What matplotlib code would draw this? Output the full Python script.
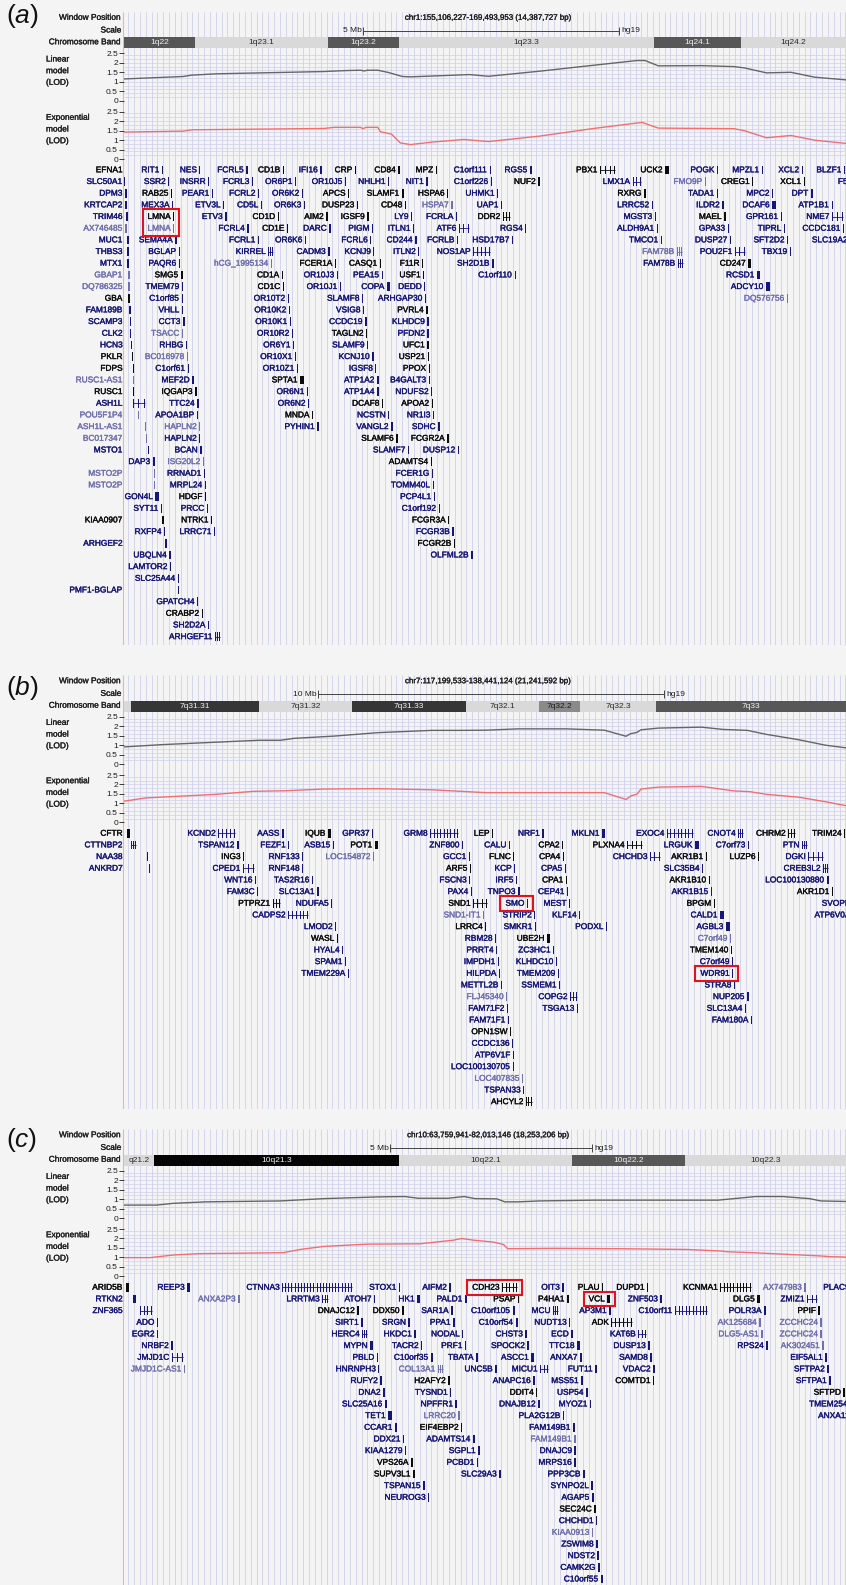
import numpy as np
import matplotlib
matplotlib.use("Agg")
import matplotlib.pyplot as plt
import matplotlib.patheffects as pe
from matplotlib.transforms import offset_copy, blended_transform_factory, IdentityTransform
from matplotlib.patches import Rectangle

plt.rcParams['font.family'] = ['Liberation Sans', 'DejaVu Sans']
plt.rcParams['mathtext.fontset'] = 'custom'
plt.rcParams['mathtext.rm'] = 'Liberation Sans'
plt.rcParams['mathtext.it'] = 'Liberation Sans:italic'

# ======================= DATA =======================
LOD_TICKS = [0, 0.5, 1, 1.5, 2, 2.5]
LOD_TICK_LABELS = ['0', '0.5', '1', '1.5', '2', '2.5']

# ---------- panel (a) ----------
A_WINDOW = (155.106227, 169.493953)
A_POSITION = "chr1:155,106,227-169,493,953 (14,387,727 bp)"
A_SCALE_MB, A_SCALE_TXT = 5, "5 Mb"
A_BAND_NAMES = ['1q22', '1q23.1', '1q23.2', '1q23.3', '1q24.1', '1q24.2']
A_BAND_EDGES = [153.3, 156.5, 159.1, 160.5, 165.5, 167.2, 170.0]
A_BAND_STAIN = ['gpos50', 'gneg', 'gpos50', 'gneg', 'gpos50', 'gneg']
A_LIN_MB = [155.11, 156.27, 156.43, 156.91, 159.02, 159.45, 159.74, 159.82, 159.87, 160.08, 160.29, 160.56,
            160.72, 161.88, 162.25, 163.26, 164.31, 165.16, 165.32, 165.58, 166.43, 167.06, 167.27, 167.70,
            168.18, 168.65, 169.27]
A_LIN_LOD = [1.15, 1.28, 1.35, 1.42, 1.54, 1.59, 1.61, 1.57, 1.61, 1.61, 1.49, 1.28, 1.26, 1.38, 1.29, 1.56,
             1.87, 2.12, 2.12, 1.84, 1.85, 1.80, 1.73, 1.47, 1.50, 1.24, 1.10]
A_EXP_MB = [155.11, 156.27, 156.43, 159.02, 159.23, 159.74, 159.79, 159.85, 160.08, 160.13, 160.35, 160.52,
            160.72, 161.14, 161.77, 162.25, 163.26, 164.31, 165.26, 165.58, 167.06, 167.27, 167.70, 168.18,
            168.65, 169.27]
A_EXP_LOD = [1.42, 1.47, 1.54, 1.61, 1.67, 1.67, 1.60, 1.67, 1.67, 1.44, 1.31, 0.85, 0.76, 0.89, 1.03, 0.92,
             1.21, 1.61, 1.93, 1.63, 1.60, 1.49, 1.12, 1.24, 0.99, 0.82]
A_NAMES = [
    "EFNA1 RIT1 NES FCRL5 CD1B IFI16 CRP CD84 MPZ C1orf111 RGS5 PBX1 UCK2 POGK MPZL1 XCL2 BLZF1",
    "SLC50A1 SSR2 INSRR FCRL3 OR6P1 OR10J5 NHLH1 NIT1 C1orf226 NUF2 LMX1A FMO9P CREG1 XCL1 F5",
    "DPM3 RAB25 PEAR1 FCRL2 OR6K2 APCS SLAMF1 HSPA6 UHMK1 RXRG TADA1 MPC2 DPT",
    "KRTCAP2 MEX3A ETV3L CD5L OR6K3 DUSP23 CD48 HSPA7 UAP1 LRRC52 ILDR2 DCAF6 ATP1B1",
    "TRIM46 LMNA ETV3 CD1D AIM2 IGSF9 LY9 FCRLA DDR2 MGST3 MAEL GPR161 NME7",
    "AX746485 LMNA FCRL4 CD1E DARC PIGM ITLN1 ATF6 RGS4 ALDH9A1 GPA33 TIPRL CCDC181",
    "MUC1 SEMA4A FCRL1 OR6K6 FCRL6 CD244 FCRLB HSD17B7 TMCO1 DUSP27 SFT2D2 SLC19A2",
    "THBS3 BGLAP KIRREL CADM3 KCNJ9 ITLN2 NOS1AP FAM78B POU2F1 TBX19",
    "MTX1 PAQR6 hCG_1995134 FCER1A CASQ1 F11R SH2D1B FAM78B CD247",
    "GBAP1 SMG5 CD1A OR10J3 PEA15 USF1 C1orf110 RCSD1",
    "DQ786325 TMEM79 CD1C OR10J1 COPA DEDD ADCY10",
    "GBA C1orf85 OR10T2 SLAMF8 ARHGAP30 DQ576756",
    "FAM189B VHLL OR10K2 VSIG8 PVRL4",
    "SCAMP3 CCT3 OR10K1 CCDC19 KLHDC9",
    "CLK2 TSACC OR10R2 TAGLN2 PFDN2",
    "HCN3 RHBG OR6Y1 SLAMF9 UFC1",
    "PKLR BC016978 OR10X1 KCNJ10 USP21",
    "FDPS C1orf61 OR10Z1 IGSF8 PPOX",
    "RUSC1-AS1 MEF2D SPTA1 ATP1A2 B4GALT3",
    "RUSC1 IQGAP3 OR6N1 ATP1A4 NDUFS2",
    "ASH1L TTC24 OR6N2 DCAF8 APOA2",
    "POU5F1P4 APOA1BP MNDA NCSTN NR1I3",
    "ASH1L-AS1 HAPLN2 PYHIN1 VANGL2 SDHC",
    "BC017347 HAPLN2 SLAMF6 FCGR2A",
    "MSTO1 BCAN SLAMF7 DUSP12",
    "DAP3 ISG20L2 ADAMTS4",
    "MSTO2P RRNAD1 FCER1G",
    "MSTO2P MRPL24 TOMM40L",
    "GON4L HDGF PCP4L1",
    "SYT11 PRCC C1orf192",
    "KIAA0907 NTRK1 FCGR3A",
    "RXFP4 LRRC71 FCGR3B",
    "ARHGEF2 FCGR2B",
    "UBQLN4 OLFML2B",
    "LAMTOR2", "SLC25A44", "PMF1-BGLAP", "GPATCH4", "CRABP2", "SH2D2A", "ARHGEF11"]
A_MB = [
    [155.09, 155.85, 156.58, 157.50, 158.22, 158.95, 159.63, 160.48, 161.22, 162.28, 163.06, 164.44, 165.71, 166.73, 167.61, 168.39, 169.22],
    [155.11, 155.97, 156.75, 157.61, 158.46, 159.44, 160.28, 161.03, 162.30, 163.22, 165.08, 166.49, 167.42, 168.43, 169.34],
    [155.13, 156.03, 156.83, 157.73, 158.59, 159.50, 160.55, 161.44, 162.42, 165.30, 166.73, 167.81, 168.57],
    [155.13, 156.05, 157.05, 157.79, 158.63, 159.67, 160.61, 161.52, 162.50, 165.45, 166.83, 167.81, 168.98],
    [155.15, 156.07, 157.09, 158.12, 159.07, 159.87, 160.73, 161.61, 162.53, 165.51, 166.87, 167.98, 168.98],
    [155.13, 156.07, 157.52, 158.30, 159.13, 159.97, 160.77, 161.67, 162.97, 165.55, 166.94, 168.04, 169.20],
    [155.17, 156.11, 157.73, 158.65, 159.93, 160.81, 161.63, 162.71, 165.63, 166.98, 168.10, 169.34],
    [155.17, 156.18, 157.93, 159.11, 159.99, 160.87, 161.95, 165.94, 167.08, 168.16],
    [155.17, 156.18, 157.99, 159.24, 160.12, 160.95, 162.32, 165.96, 167.34],
    [155.19, 156.22, 158.20, 159.28, 160.16, 160.97, 162.77, 167.51],
    [155.19, 156.24, 158.22, 159.34, 160.26, 160.99, 167.69],
    [155.19, 156.24, 158.32, 159.77, 161.01, 168.10],
    [155.21, 156.24, 158.34, 159.79, 161.03],
    [155.22, 156.26, 158.36, 159.83, 161.05],
    [155.22, 156.24, 158.40, 159.85, 161.05],
    [155.24, 156.32, 158.42, 159.87, 161.05],
    [155.26, 156.34, 158.46, 159.97, 161.06],
    [155.28, 156.36, 158.50, 160.03, 161.08],
    [155.28, 156.44, 158.56, 160.07, 161.08],
    [155.28, 156.50, 158.69, 160.07, 161.12],
    [155.28, 156.54, 158.71, 160.16, 161.14],
    [155.38, 156.54, 158.79, 160.28, 161.16],
    [155.52, 156.58, 158.89, 160.34, 161.26],
    [155.54, 156.58, 160.44, 161.44],
    [155.58, 156.60, 160.67, 161.65],
    [155.67, 156.65, 161.12],
    [155.69, 156.67, 161.14],
    [155.69, 156.69, 161.16],
    [155.72, 156.69, 161.18],
    [155.83, 156.73, 161.28],
    [155.86, 156.81, 161.46],
    [155.89, 156.87, 161.54],
    [155.91, 161.57],
    [155.99, 161.91],
    [156.01], [156.16], [156.16], [156.54], [156.63], [156.75], [156.89]]
A_KIND = ["kbbbkbkkkbbkkbbbb", "bbbbbbbbbkblkkb", "bkbbbkkkbkbbb", "bbbbbkklbbbbb", "bkbkkkbbkbkbb",
          "llbkbbbbbbbbb", "bbbbbbbbbbbb", "bbbbbbblbb", "bblkkkbbk", "lkkbbkbb", "lbkbbbb", "kbbbbl",
          "bbbbk", "bbbbb", "blbkb", "bbbbk", "klbbk", "kbbbk", "lbkbb", "kkbbb", "bbbkk", "lbkbb", "llbbb",
          "lbkk", "bbbb", "blk", "lbb", "lbb", "bkb", "bbb", "kkk", "bbb", "bk", "bb",
          "b", "b", "b", "b", "k", "b", "b"]
A_SPAN_KB = {'FCRL5': 39, 'IFI16': 39, 'CD84': 39, 'RGS5': 39, 'PBX1': 294, 'UCK2': 78, 'MPZL1': 30,
             'NUF2': 39, 'LMX1A': 157, 'SLAMF1': 39, 'RXRG': 39, 'DPT': 39, 'UAP1': 20, 'ILDR2': 39,
             'DCAF6': 86, 'IGSF9': 30, 'LY9': 30, 'DDR2': 137, 'MAEL': 30, 'NME7': 216, 'FCRL4': 30,
             'ATF6': 196, 'ALDH9A1': 30, 'GPA33': 30, 'SEMA4A': 39, 'CD244': 30, 'HSD17B7': 30,
             'TMCO1': 30, 'SFT2D2': 30, 'KIRREL': 98, 'CADM3': 39, 'NOS1AP': 333, 'FAM78B': 98,
             'POU2F1': 196, 'TBX19': 30, 'SH2D1B': 30, 'CD247': 59, 'SMG5': 39, 'RCSD1': 59, 'COPA': 59,
             'ADCY10': 78, 'SLAMF8': 30, 'VSIG8': 30, 'CCT3': 39, 'CCDC19': 30, 'KLHDC9': 30, 'RHBG': 30,
             'KCNJ10': 30, 'C1orf61': 30, 'MEF2D': 30, 'SPTA1': 78, 'ATP1A2': 30, 'IQGAP3': 39,
             'ATP1A4': 30, 'NDUFS2': 30, 'ASH1L': 235, 'TTC24': 30, 'DCAF8': 30, 'MNDA': 30, 'NCSTN': 30,
             'NR1I3': 30, 'PYHIN1': 39, 'VANGL2': 30, 'SDHC': 39, 'SLAMF6': 39, 'FCGR2A': 30, 'BCAN': 30,
             'SLAMF7': 30, 'DAP3': 39, 'GON4L': 78, 'HDGF': 30, 'SYT11': 30, 'PRCC': 30, 'NTRK1': 30,
             'FCGR3B': 30, 'ARHGEF2': 30, 'FCGR2B': 30, 'UBQLN4': 30, 'OLFML2B': 39, 'SLC25A44': 30,
             'PMF1-BGLAP': 30, 'CRABP2': 30, 'SH2D2A': 30, 'ARHGEF11': 98}
A_MARKED = ['LMNA']

# ---------- panel (b) ----------
B_WINDOW = (117.199533, 138.441124)
B_POSITION = "chr7:117,199,533-138,441,124 (21,241,592 bp)"
B_SCALE_MB, B_SCALE_TXT = 10, "10 Mb"
B_BAND_NAMES = ['', '7q31.31', '7q31.32', '7q31.33', '7q32.1', '7q32.2', '7q32.3', '7q33', '7q34']
B_BAND_EDGES = [113.6, 117.4, 121.1, 123.8, 127.1, 129.2, 130.4, 132.6, 138.2, 143.1]
B_BAND_STAIN = ['gneg', 'gpos75', 'gneg', 'gpos75', 'gneg', 'gpos25', 'gneg', 'gpos50', 'gneg']
B_LIN_MB = [117.20, 118.30, 121.11, 121.73, 122.12, 123.29, 124.54, 126.10, 126.88, 127.67, 128.60, 130.01,
            131.10, 131.73, 131.85, 132.04, 132.16, 132.66, 133.91, 134.54, 135.24, 135.79, 136.72, 137.50,
            138.10]
B_LIN_LOD = [0.91, 1.03, 1.26, 1.26, 1.36, 1.48, 1.66, 1.78, 1.78, 1.79, 1.86, 1.86, 1.79, 1.47, 1.60, 1.67,
             1.81, 1.90, 1.95, 1.83, 1.78, 1.57, 1.29, 1.00, 0.86]
B_EXP_MB = [117.20, 117.83, 119.86, 120.95, 121.89, 122.98, 124.54, 126.10, 127.67, 129.23, 131.10, 131.73,
            131.88, 132.04, 132.16, 132.66, 133.91, 134.85, 135.32, 135.79, 136.72, 137.50, 138.10]
B_EXP_LOD = [1.12, 1.29, 1.48, 1.64, 1.67, 1.76, 1.78, 1.72, 1.57, 1.57, 1.57, 1.21, 1.41, 1.48, 1.76, 1.86,
             1.90, 1.66, 1.62, 1.48, 1.33, 1.09, 0.88]
B_NAMES = [
    "CFTR KCND2 AASS IQUB GPR37 GRM8 LEP NRF1 MKLN1 EXOC4 CNOT4 CHRM2 TRIM24",
    "CTTNBP2 TSPAN12 FEZF1 ASB15 POT1 ZNF800 CALU CPA2 PLXNA4 LRGUK C7orf73 PTN",
    "NAA38 ING3 RNF133 LOC154872 GCC1 FLNC CPA4 CHCHD3 AKR1B1 LUZP6 DGKI",
    "ANKRD7 CPED1 RNF148 ARF5 KCP CPA5 SLC35B4 CREB3L2",
    "WNT16 TAS2R16 FSCN3 IRF5 CPA1 AKR1B10 LOC100130880",
    "FAM3C SLC13A1 PAX4 TNPO3 CEP41 AKR1B15 AKR1D1",
    "PTPRZ1 NDUFA5 SND1 SMO MEST BPGM SVOPL",
    "CADPS2 SND1-IT1 STRIP2 KLF14 CALD1 ATP6V0A4",
    "LMOD2 LRRC4 SMKR1 PODXL AGBL3",
    "WASL RBM28 UBE2H C7orf49",
    "HYAL4 PRRT4 ZC3HC1 TMEM140",
    "SPAM1 IMPDH1 KLHDC10 C7orf49",
    "TMEM229A HILPDA TMEM209 WDR91",
    "METTL2B SSMEM1 STRA8",
    "FLJ45340 COPG2 NUP205",
    "FAM71F2 TSGA13 SLC13A4",
    "FAM71F1 FAM180A",
    "OPN1SW", "CCDC136", "ATP6V1F", "LOC100130705", "LOC407835", "TSPAN33", "AHCYL2"]
B_MB = [
    [117.29, 119.92, 121.77, 123.10, 124.38, 126.06, 127.85, 129.30, 131.03, 132.91, 134.97, 136.42, 138.04],
    [117.40, 120.47, 121.95, 123.25, 124.46, 126.98, 128.34, 129.88, 131.76, 133.72, 135.26, 136.82],
    [117.87, 120.64, 122.35, 124.41, 127.18, 128.46, 129.90, 132.42, 134.04, 135.55, 137.00],
    [117.92, 120.64, 122.35, 127.21, 128.49, 129.96, 133.93, 137.43],
    [120.99, 122.64, 127.18, 128.54, 129.99, 134.13, 137.55],
    [121.05, 122.79, 127.24, 128.60, 130.02, 134.19, 137.69],
    [121.51, 123.19, 127.30, 128.86, 130.08, 134.27, 138.27],
    [121.95, 127.59, 129.07, 130.37, 134.45, 138.44],
    [123.31, 127.65, 129.09, 131.15, 134.62],
    [123.36, 127.94, 129.44, 134.74],
    [123.51, 127.97, 129.62, 134.77],
    [123.60, 128.02, 129.70, 134.80],
    [123.68, 128.05, 129.76, 134.80],
    [128.11, 129.79, 134.85],
    [128.26, 130.11, 135.23],
    [128.28, 130.31, 135.17],
    [128.31, 135.35],
    [128.37], [128.43], [128.46], [128.46], [128.72], [128.75], [128.83]]
B_KIND = ["kbbkbbkbbbbkk", "bbbbkbbkkbbb", "bkblbkkbkkb", "bbbkbbbb", "bbbbkkb", "bbbbbbk", "kbkbbkb",
          "blbbbb", "bkbbb", "kbkl", "bbbk", "bbbb", "bbbb", "bbb", "lbb", "bbb", "bb",
          "k", "b", "b", "b", "l", "b", "k"]
B_SPAN_KB = {'CFTR': 78, 'KCND2': 490, 'AASS': 58, 'IQUB': 87, 'GRM8': 810, 'NRF1': 58, 'MKLN1': 87,
             'EXOC4': 750, 'CNOT4': 145, 'CHRM2': 200, 'CTTNBP2': 145, 'TSPAN12': 58, 'POT1': 87,
             'PLXNA4': 434, 'LRGUK': 120, 'PTN': 145, 'CHCHD3': 290, 'LUZP6': 40, 'DGKI': 434,
             'CPED1': 318, 'CREB3L2': 145, 'SLC13A1': 58, 'TNPO3': 58, 'PTPRZ1': 200, 'SND1': 405,
             'CADPS2': 580, 'CALD1': 116, 'AGBL3': 120, 'UBE2H': 87, 'COPG2': 200, 'NUP205': 58,
             'AHCYL2': 175, 'PODXL': 40}
B_MARKED = ['SMO', 'WDR91']

# ---------- panel (c) ----------
C_WINDOW = (63.759941, 82.013146)
C_POSITION = "chr10:63,759,941-82,013,146 (18,253,206 bp)"
C_SCALE_MB, C_SCALE_TXT = 5, "5 Mb"
C_BAND_NAMES = ['q21.2', '10q21.3', '10q22.1', '10q22.2', '10q22.3']
C_BAND_EDGES = [61.9, 64.5, 70.6, 74.9, 77.7, 82.0]
C_BAND_STAIN = ['gneg', 'gpos100', 'gneg', 'gpos50', 'gneg']
C_LIN_MB = [63.76, 64.57, 64.97, 65.78, 67.66, 68.73, 70.07, 70.74, 71.08, 71.82, 72.22, 72.49, 73.03, 73.23,
            73.56, 74.10, 75.44, 78.53, 79.47, 80.14, 80.81, 81.08, 81.73]
C_LIN_LOD = [0.69, 0.69, 0.78, 0.86, 0.91, 1.03, 1.12, 1.14, 1.05, 1.05, 1.14, 1.03, 1.02, 0.86, 0.86, 0.91,
             0.95, 0.95, 1.14, 1.14, 1.03, 0.91, 0.88]
C_EXP_MB = [63.76, 64.41, 64.99, 65.65, 67.72, 68.14, 68.72, 69.80, 71.12, 71.95, 72.16, 72.45, 72.95, 73.20,
            73.30, 74.44, 76.10, 77.76, 78.59, 78.76, 79.41, 81.07, 81.32, 81.72]
C_EXP_LOD = [0.99, 0.99, 1.13, 1.20, 1.25, 1.42, 1.58, 1.70, 1.72, 1.91, 2.00, 1.91, 1.81, 1.68, 1.46, 1.48,
             1.46, 1.42, 1.34, 1.30, 1.25, 1.08, 1.04, 1.02]
C_NAMES = [
    "ARID5B REEP3 CTNNA3 STOX1 AIFM2 CDH23 OIT3 PLAU DUPD1 KCNMA1 AX747983 PLAC9",
    "RTKN2 ANXA2P3 LRRTM3 ATOH7 HK1 PALD1 PSAP P4HA1 VCL ZNF503 DLG5 ZMIZ1",
    "ZNF365 DNAJC12 DDX50 SAR1A C10orf105 MCU AP3M1 C10orf11 POLR3A PPIF",
    "ADO SIRT1 SRGN PPA1 C10orf54 NUDT13 ADK AK125684 ZCCHC24",
    "EGR2 HERC4 HKDC1 NODAL CHST3 ECD KAT6B DLG5-AS1 ZCCHC24",
    "NRBF2 MYPN TACR2 PRF1 SPOCK2 TTC18 DUSP13 RPS24 AK302451",
    "JMJD1C PBLD C10orf35 TBATA ASCC1 ANXA7 SAMD8 EIF5AL1",
    "JMJD1C-AS1 HNRNPH3 COL13A1 UNC5B MICU1 FUT11 VDAC2 SFTPA2",
    "RUFY2 H2AFY2 ANAPC16 MSS51 COMTD1 SFTPA1",
    "DNA2 TYSND1 DDIT4 USP54 SFTPD",
    "SLC25A16 NPFFR1 DNAJB12 MYOZ1 TMEM254",
    "TET1 LRRC20 PLA2G12B ANXA11",
    "CCAR1 EIF4EBP2 FAM149B1",
    "DDX21 ADAMTS14 FAM149B1",
    "KIAA1279 SGPL1 DNAJC9",
    "VPS26A PCBD1 MRPS16",
    "SUPV3L1 SLC29A3 PPP3CB",
    "TSPAN15 SYNPO2L",
    "NEUROG3 AGAP5",
    "SEC24C", "CHCHD1", "KIAA0913", "ZSWIM8", "NDST2", "CAMK2G", "C10orf55"]
C_MB = [
    [63.81, 65.33, 67.69, 70.60, 71.85, 73.16, 74.66, 75.65, 76.77, 78.59, 80.68, 81.87],
    [63.98, 66.60, 68.69, 69.98, 71.05, 72.24, 73.56, 74.78, 75.78, 77.10, 79.51, 80.75],
    [64.16, 69.56, 70.68, 71.90, 73.44, 74.43, 75.83, 77.47, 79.68, 81.03],
    [64.58, 69.66, 70.83, 71.95, 73.51, 74.83, 75.88, 79.56, 81.08],
    [64.58, 69.68, 70.98, 72.17, 73.74, 74.88, 76.55, 79.61, 81.08],
    [64.93, 69.88, 71.15, 72.24, 73.79, 75.03, 76.80, 79.73, 81.13],
    [64.95, 70.05, 71.40, 72.52, 73.89, 75.10, 76.85, 81.20],
    [65.25, 70.08, 71.57, 72.99, 74.11, 75.48, 76.92, 81.25],
    [70.13, 71.82, 73.94, 75.13, 76.92, 81.30],
    [70.20, 71.87, 74.01, 75.25, 81.65],
    [70.25, 72.00, 74.06, 75.35, 81.82],
    [70.33, 72.07, 74.68, 81.87],
    [70.50, 72.14, 74.93],
    [70.70, 72.44, 74.96],
    [70.75, 72.57, 74.96],
    [70.90, 72.54, 74.96],
    [70.95, 73.09, 75.18],
    [71.20, 75.38],
    [71.32, 75.40],
    [75.45], [75.50], [75.40], [75.50], [75.53], [75.55], [75.63]]
C_KIND = ["kbbbbkbkkklb", "blbbbbkkkbkb", "bkkbbbbbbk", "bbbbbbkll", "bbbbbbbll", "bbbbbbbbl", "bbbbbbbb",
          "lblbbbbb", "bkbbkb", "bbkbk", "bbbbb", "blbb", "bkb", "bbl", "bbb", "kbb", "kbb", "bb", "bb",
          "k", "b", "l", "b", "b", "b", "b"]
C_SPAN_KB = {'ARID5B': 75, 'RTKN2': 75, 'ZNF365': 300, 'JMJD1C': 275, 'REEP3': 75, 'CTNNA3': 1740,
             'LRRTM3': 150, 'HERC4': 125, 'MYPN': 75, 'TET1': 100, 'HK1': 75, 'COL13A1': 125, 'LRRC20': 50,
             'ADAMTS14': 50, 'CDH23': 375, 'ASCC1': 75, 'MICU1': 200, 'FAM149B1': 50, 'PPP3CB': 50,
             'MCU': 125, 'P4HA1': 50, 'TTC18': 75, 'USP54': 50, 'VCL': 75, 'ADK': 520, 'KAT6B': 200,
             'C10orf11': 800, 'KCNMA1': 750, 'DLG5': 75, 'POLR3A': 50, 'ZMIZ1': 250, 'ZCCHC24': 50,
             'CAMK2G': 50, 'PALD1': 40, 'DNAJC12': 50, 'DDX50': 50, 'SIRT1': 40, 'PPA1': 40,
             'C10orf54': 40, 'ECD': 40, 'HKDC1': 40, 'NRBF2': 40, 'RPS24': 40, 'ANXA7': 40, 'SAMD8': 40,
             'UNC5B': 40, 'VDAC2': 40, 'RUFY2': 50, 'H2AFY2': 50, 'DNA2': 50, 'SLC25A16': 50,
             'DNAJB12': 40, 'CCAR1': 50, 'VPS26A': 40, 'SUPV3L1': 40, 'SLC29A3': 40, 'TSPAN15': 40,
             'AGAP5': 40, 'SEC24C': 40, 'ZSWIM8': 40, 'OIT3': 30}
C_MARKED = ['CDH23', 'VCL']

# ======================= LAYOUT / STYLE =======================
W, H, DPI = 846, 1585, 100
BG = '#f4f4f4'
X0, XW = 124.0, 734.0          # data window in pixels (UCSC image is cropped on the right)
ROWH = 11.67
GRID = '#d0d0ee'
TXT = '#1e1e1e'
GENE_COLORS = {'b': '#15157a', 'k': '#0c0c0c', 'l': '#7070b2'}
STAIN = {'gneg': ('#d9d9d9', '#2a2a2a'), 'gpos25': ('#8a8a8a', '#1a1a1a'),
         'gpos50': ('#575757', '#f0f0f0'), 'gpos75': ('#363636', '#f0f0f0'),
         'gpos100': ('#050505', '#f0f0f0')}

fig = plt.figure(figsize=(W / DPI, H / DPI), dpi=DPI)
fig.patch.set_facecolor(BG)
renderer = fig.canvas.get_renderer()


def add_ax(x0, ytop, w, h, z=1):
    ax = fig.add_axes([x0 / W, 1 - (ytop + h) / H, w / W, h / H], zorder=z)
    ax.set_facecolor('none')
    for s in ax.spines.values():
        s.set_visible(False)
    ax.set_xticks([])
    ax.set_yticks([])
    return ax


def heavy(col, w=0.25):
    return [pe.withStroke(linewidth=w, foreground=col)]


def ftext(x, y, s, **kw):
    kw.setdefault('fontsize', 6)
    kw.setdefault('color', TXT)
    t = fig.text(x / W, 1 - y / H, s, **kw)
    return t


def flat(rows_names, rows_mb, rows_kind):
    names, mb, rows, kinds = [], [], [], []
    for r, (ns, ms, ks) in enumerate(zip(rows_names, rows_mb, rows_kind)):
        ns = ns.split()
        if not (len(ns) == len(ms) == len(ks)):
            raise ValueError(f"row {r} mismatch: {ns} {ms} {ks}")
        names += ns
        mb += ms
        kinds += list(ks)
        rows += [r] * len(ns)
    return names, mb, rows, kinds


def draw_genes(ax, names, mb, rows, kinds, spans, pxmb, marked):
    boxes = {}
    for n, x, r, k in zip(names, mb, rows, kinds):
        col = GENE_COLORS[k]
        span = spans.get(n, 0) / 1000.0
        spx = span * pxmb
        if spx >= 4.5:
            ax.hlines(r, x, x + span, color=col, lw=0.6)
            ne = max(3, int(spx / 3.0))
            ew = 1.0 / pxmb
            ax.bar(np.linspace(x, x + span - ew, ne), 0.74, width=ew, bottom=r - 0.37,
                   align='edge', color=col, lw=0)
            right = x + span
        else:
            w = max(spx, 1.3) / pxmb
            ax.bar([x], 0.74, width=w, bottom=r - 0.37, align='edge', color=col, lw=0)
            right = x + w
        t = ax.text(x, r, n, transform=offset_copy(ax.transData, fig=fig, x=-2.5, y=-0.8, units='dots'),
                    ha='right', va='center', fontsize=6, color=col, path_effects=heavy(col))
        bb = t.get_window_extent(renderer)
        if bb.x0 < X0 - 0.5:
            t.set_transform(offset_copy(blended_transform_factory(IdentityTransform(), ax.transData),
                                        fig=fig, x=0, y=-0.8, units='dots'))
            t.set_x(122.5)
            bb = t.get_window_extent(renderer)
        if n in marked:
            g = ax.transData.transform([(x, r - 0.37), (right, r + 0.37)])
            x0_, x1_ = min(bb.x0, g[:, 0].min()), max(bb.x1, g[:, 0].max())
            y0_, y1_ = min(bb.y0, g[:, 1].min()), max(bb.y1, g[:, 1].max())
            if n in boxes:
                bx = boxes[n]
                boxes[n] = (min(bx[0], x0_), min(bx[1], y0_), max(bx[2], x1_), max(bx[3], y1_))
            else:
                boxes[n] = (x0_, y0_, x1_, y1_)
    for (a0, b0, a1, b1) in boxes.values():
        fig.add_artist(Rectangle((a0 - 5, b0 - 3), a1 - a0 + 10, b1 - b0 + 6, fill=False,
                                 ec='#e3121b', lw=1.5, transform=IdentityTransform(), zorder=10))


def draw_panel(p):
    dy = p['dy']
    s0, s1 = p['win']
    pxmb = XW / (s1 - s0)
    top, bot = dy + 12, p['bottom']
    # background guide lines
    bg = add_ax(0, top, W, bot - top, z=0)
    bg.set_xlim(0, W)
    bg.set_ylim(bot, top)
    bg.vlines(np.arange(128.3, W, 5.83), top, bot, color=GRID, lw=0.6)
    bg.vlines(123.4, top, bot, color='#f0b0b0', lw=0.8)
    # panel tag
    ftext(6, p['tag_y'], r'$(\mathit{%s})$' % p['tag'], fontsize=19, va='center', color='#111111')
    # header labels
    for lbl, yy in (('Window Position', 18.3), ('Scale', 31), ('Chromosome Band', 42.8)):
        ftext(121.5, dy + yy, lbl, ha='right', va='center', path_effects=heavy(TXT, 0.2))
    ftext(X0 + 364, dy + 18.3, p['pos_text'], ha='center', va='center', fontsize=5.7,
          path_effects=heavy(TXT, 0.2))
    # scale bar
    sc = add_ax(X0, dy + 26, XW, 10, z=2)
    sc.set_xlim(s0, s1)
    sc.set_ylim(0, 1)
    mid = (s0 + s1) / 2
    a, b = mid - p['scale_mb'] / 2, mid + p['scale_mb'] / 2
    sc.hlines(0.5, a, b, color='#444444', lw=0.7)
    sc.vlines([a, b], 0.1, 0.9, color='#444444', lw=0.7)
    sc.text(a, 0.5, p['scale_txt'], transform=offset_copy(sc.transData, fig=fig, x=-2, units='dots'),
            ha='right', va='center', fontsize=6, color=TXT)
    sc.text(b, 0.5, 'hg19', transform=offset_copy(sc.transData, fig=fig, x=2.5, units='dots'),
            ha='left', va='center', fontsize=6, color=TXT)
    # chromosome bands
    bd = add_ax(X0, dy + 37.3, XW, 11, z=2)
    bd.set_xlim(s0, s1)
    bd.set_ylim(0, 1)
    e = p['band_edges']
    vis_hi = s0 + (W - X0) / pxmb
    for i, (nm, st) in enumerate(zip(p['band_names'], p['band_stain'])):
        fc, tc = STAIN[st]
        bd.bar([e[i]], 1, width=e[i + 1] - e[i], align='edge', color=fc, lw=0)
        lo, hi = max(e[i], s0), min(e[i + 1], vis_hi)
        if nm and hi > lo:
            bd.text((lo + hi) / 2, 0.5, nm, ha='center', va='center', fontsize=6, color=tc)
    # LOD tracks
    tracks = [(dy + 53.3, dy + 100.8, p['lin'], '#666666', ['Linear', 'model', '(LOD)'], [60, 71.7, 83.3]),
              (dy + 111.6, dy + 159.0, p['exp'], '#f07070', ['Exponential', 'model', '(LOD)'],
               [118.3, 130, 141.7])]
    for yt, yb, (xs, ys), col, lab, laby in tracks:
        ax = add_ax(X0, yt, XW, yb - yt, z=2)
        ax.set_xlim(s0, s1)
        ax.set_ylim(0, 2.5)
        ax.hlines(np.arange(0.2, 2.45, 0.2), s0, s1, color=GRID, lw=0.5)
        ax.plot(xs, ys, color=col, lw=1.0, solid_joinstyle='round')
        ax.set_yticks(LOD_TICKS)
        ax.set_yticklabels(LOD_TICK_LABELS)
        ax.tick_params(axis='y', length=3.6, width=0.6, pad=0.8, labelsize=6, colors=TXT)
        for t, yy in zip(lab, laby):
            ftext(46, dy + yy, t, ha='left', va='center', path_effects=heavy(TXT, 0.2))
    # genes
    gtop = dy + 170 - ROWH / 2
    nrows = (bot - gtop) / ROWH
    ga = add_ax(X0, gtop, XW, bot - gtop, z=3)
    ga.set_xlim(s0, s1)
    ga.set_ylim(nrows - 0.5, -0.5)
    names, mb, rows, kinds = flat(*p['genes'])
    draw_genes(ga, names, mb, rows, kinds, p['spans'], pxmb, p['marked'])


PANELS = [
    dict(tag='a', dy=0.0, bottom=645, tag_y=16, win=A_WINDOW, pos_text=A_POSITION, scale_mb=A_SCALE_MB,
         scale_txt=A_SCALE_TXT, band_names=A_BAND_NAMES, band_edges=A_BAND_EDGES, band_stain=A_BAND_STAIN,
         lin=(A_LIN_MB, A_LIN_LOD), exp=(A_EXP_MB, A_EXP_LOD), genes=(A_NAMES, A_MB, A_KIND),
         spans=A_SPAN_KB, marked=A_MARKED),
    dict(tag='b', dy=663.4, bottom=1109, tag_y=688, win=B_WINDOW, pos_text=B_POSITION, scale_mb=B_SCALE_MB,
         scale_txt=B_SCALE_TXT, band_names=B_BAND_NAMES, band_edges=B_BAND_EDGES, band_stain=B_BAND_STAIN,
         lin=(B_LIN_MB, B_LIN_LOD), exp=(B_EXP_MB, B_EXP_LOD), genes=(B_NAMES, B_MB, B_KIND),
         spans=B_SPAN_KB, marked=B_MARKED),
    dict(tag='c', dy=1117.4, bottom=1585, tag_y=1140, win=C_WINDOW, pos_text=C_POSITION, scale_mb=C_SCALE_MB,
         scale_txt=C_SCALE_TXT, band_names=C_BAND_NAMES, band_edges=C_BAND_EDGES, band_stain=C_BAND_STAIN,
         lin=(C_LIN_MB, C_LIN_LOD), exp=(C_EXP_MB, C_EXP_LOD), genes=(C_NAMES, C_MB, C_KIND),
         spans=C_SPAN_KB, marked=C_MARKED),
]

for P in PANELS:
    draw_panel(P)

fig.savefig('out.png', dpi=DPI, facecolor=BG)
